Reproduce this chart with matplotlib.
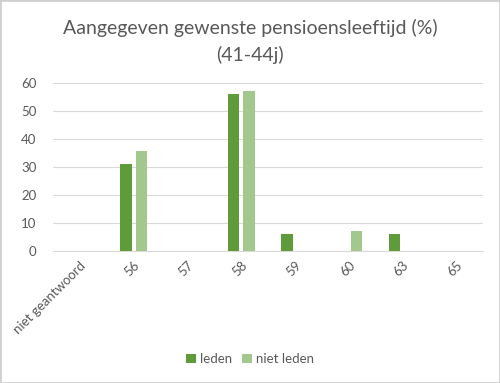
import matplotlib
matplotlib.use("Agg")
import matplotlib.pyplot as plt
import numpy as np
from matplotlib.patches import Rectangle

categories = ["niet geantwoord", "56", "57", "58", "59", "60", "63", "65"]
leden = [0, 31.25, 0, 56.25, 6.25, 0, 6.25, 0]
niet_leden = [0, 35.7, 0, 57.1, 0, 7.1, 0, 0]
series_names = ["leden", "niet leden"]
yticks = [0, 10, 20, 30, 40, 50, 60]

plt.rcParams['font.family'] = ['Lato', 'DejaVu Sans']
txt = "#595959"
c1 = "#5F9B3B"
c2 = "#A3C88E"

fig = plt.figure(figsize=(5, 3.83), dpi=100)
fig.patches.append(Rectangle((0, 0), 1, 1, transform=fig.transFigure, fill=False,
                             edgecolor="#D0D0D0", linewidth=2))
ax = fig.add_axes([0.106, 0.3446, 0.86, 0.4385])
x = np.arange(len(categories))
w = 0.215
ax.bar(x - 0.145, leden, w, color=c1, label=series_names[0], zorder=3)
ax.bar(x + 0.145, niet_leden, w, color=c2, label=series_names[1], zorder=3)
ax.set_xlim(-0.5, len(categories) - 0.5)
ax.set_ylim(0, 60)
ax.set_yticks(yticks)
ax.grid(axis='y', color="#D9D9D9", linewidth=0.8, zorder=0)
for s in ax.spines.values():
    s.set_visible(False)
ax.spines['bottom'].set_visible(True)
ax.spines['bottom'].set_color("#D9D9D9")
ax.tick_params(axis='both', length=0, colors=txt, labelsize=9.5)
ax.tick_params(axis='y', pad=12)
ax.set_xticks(x)
ax.set_xticklabels(categories, rotation=45, ha='right', rotation_mode='anchor')
ax.tick_params(axis='x', pad=6)
fig.text(0.5, 0.928, "Aangegeven gewenste pensioensleeftijd (%)", ha='center', va='center',
         fontsize=14, color=txt)
fig.text(0.5, 0.857, "(41-44j)", ha='center', va='center', fontsize=14, color=txt)
fig.legend(loc='center', bbox_to_anchor=(0.5, 0.062), ncol=2, frameon=False,
           fontsize=9.5, labelcolor=txt, handlelength=0.7, handleheight=0.7,
           handletextpad=0.3, columnspacing=0.8)
fig.savefig("out.png", dpi=100)
